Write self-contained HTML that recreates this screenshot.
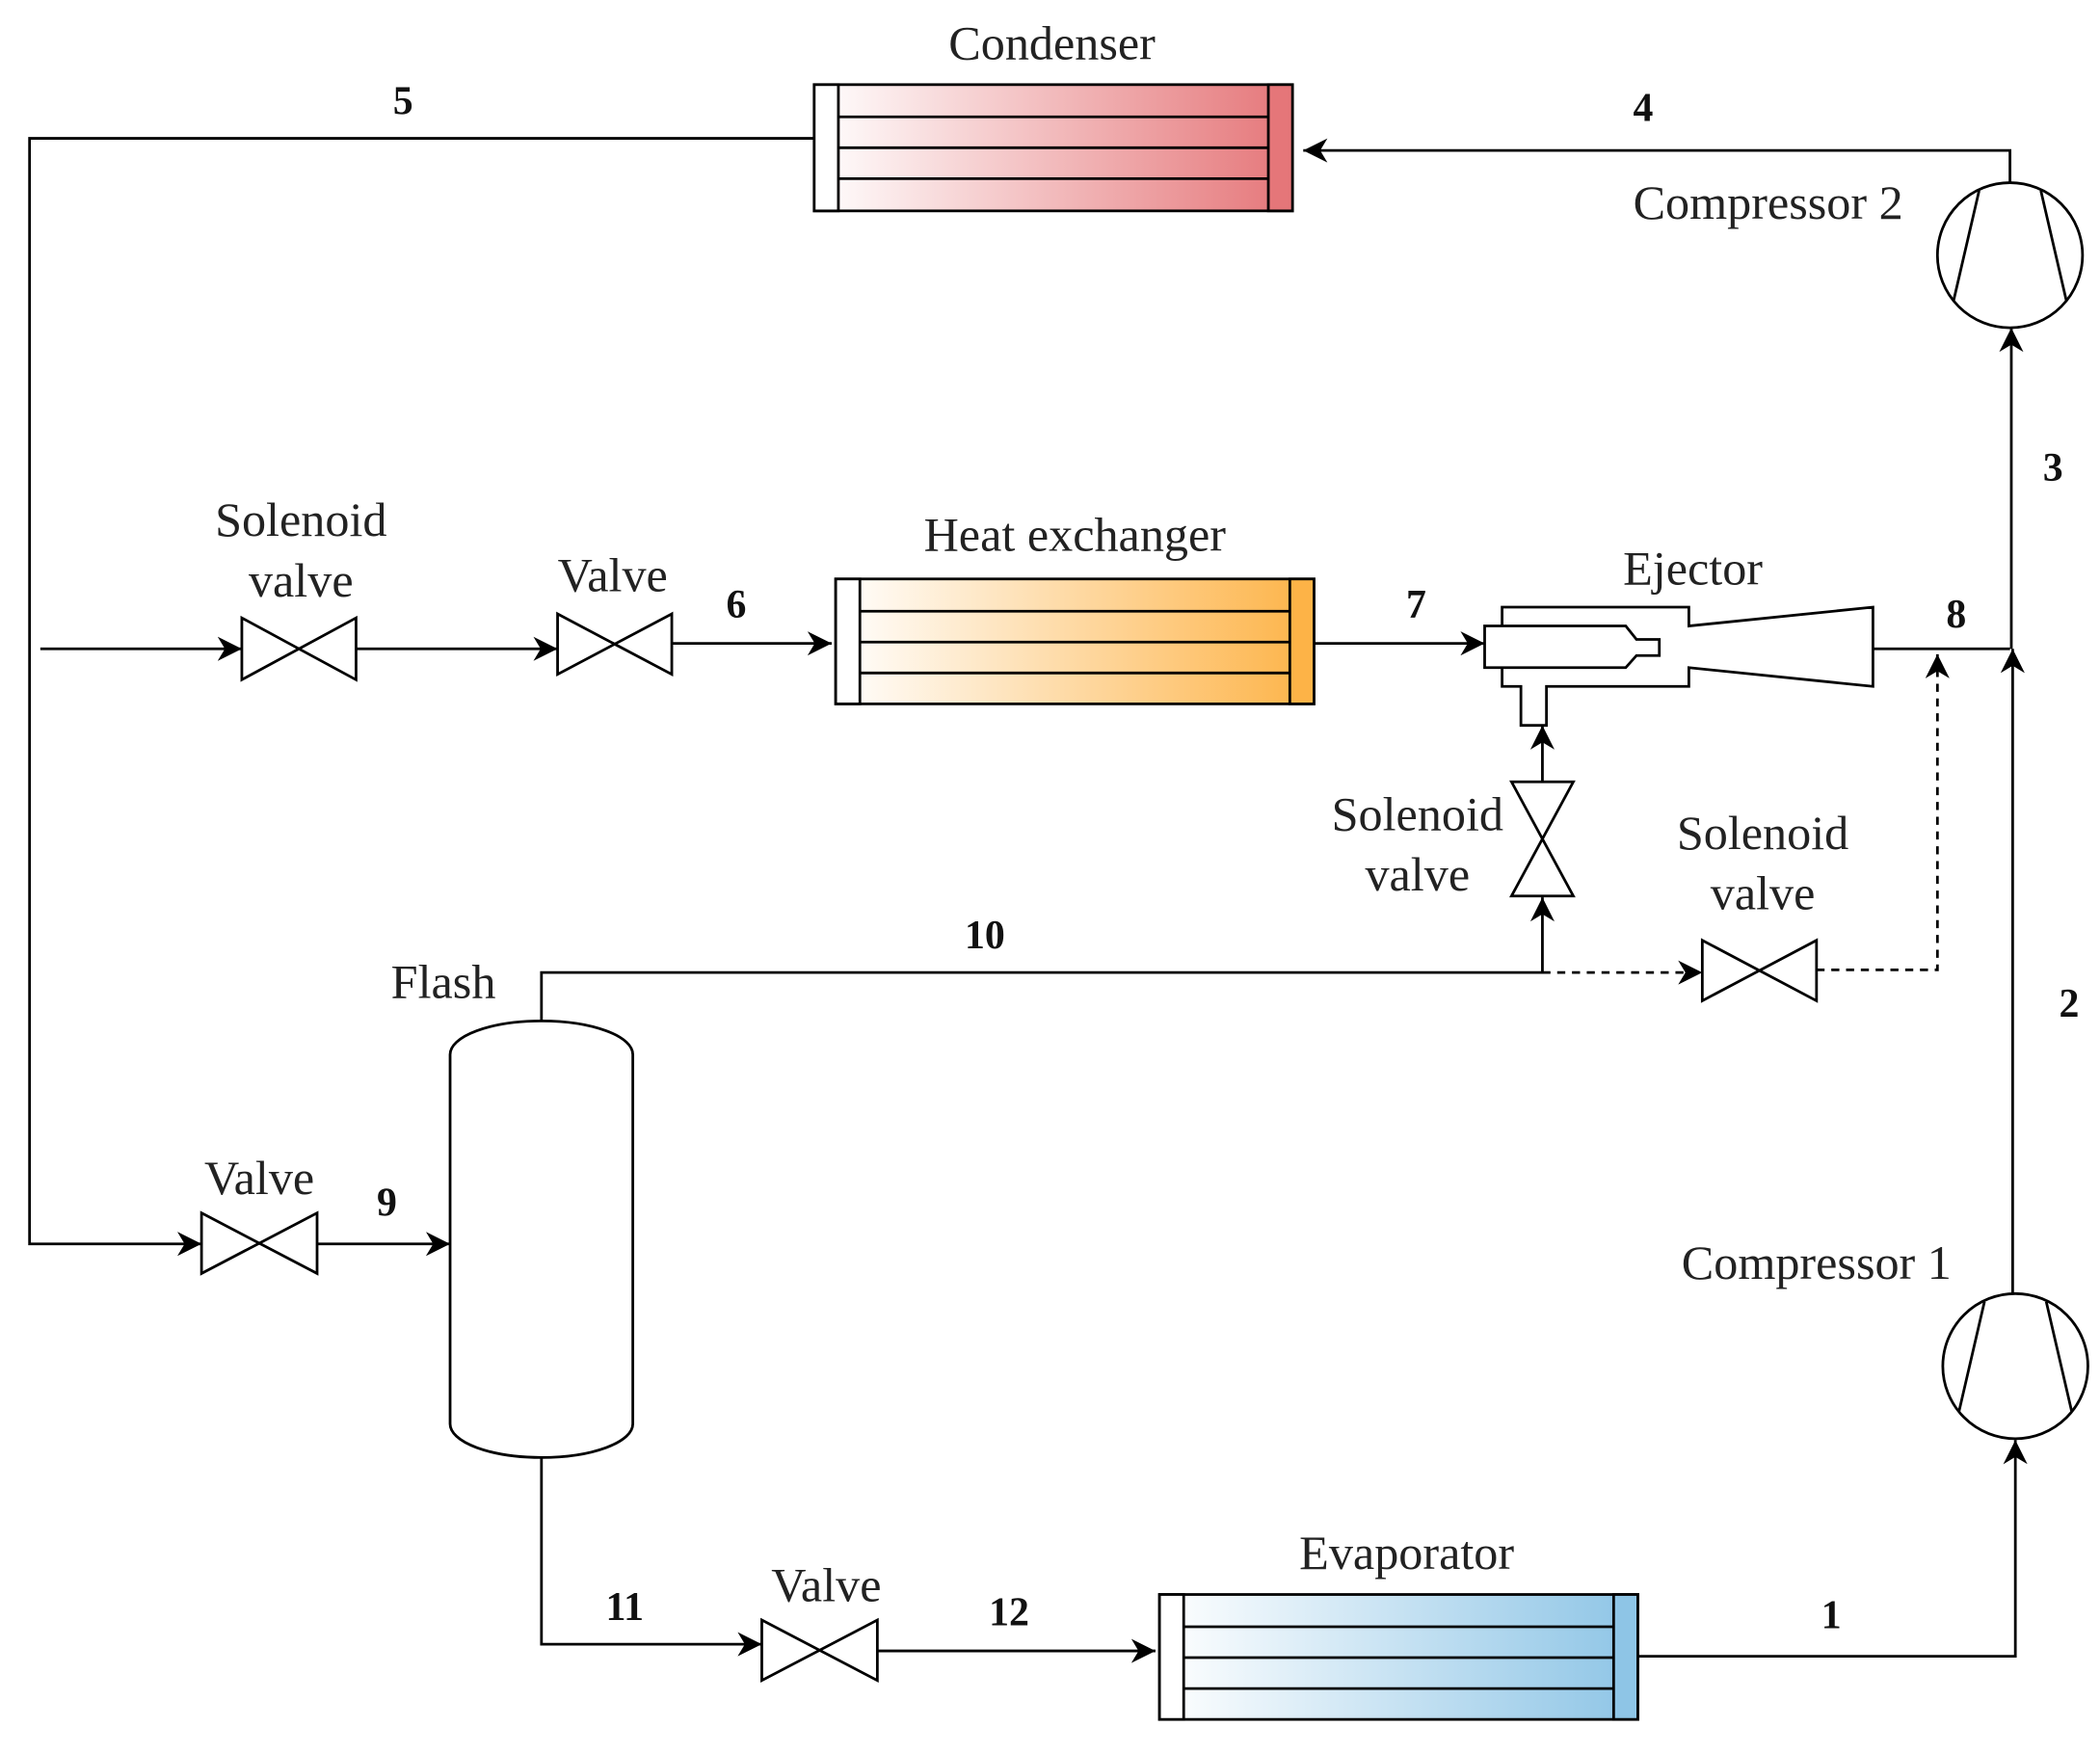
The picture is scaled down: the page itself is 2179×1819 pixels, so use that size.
<!DOCTYPE html>
<html><head><meta charset="utf-8"><style>html,body{margin:0;padding:0;background:#fff}svg{display:block}</style></head>
<body>
<svg width="2179" height="1819" viewBox="0 0 1563 1305" preserveAspectRatio="none" xmlns="http://www.w3.org/2000/svg">
<defs>
<linearGradient id="gr" x1="0" x2="1"><stop offset="0" stop-color="#fff"/><stop offset="1" stop-color="#e57679"/></linearGradient>
<linearGradient id="go" x1="0" x2="1"><stop offset="0" stop-color="#fff"/><stop offset="1" stop-color="#fdb347"/></linearGradient>
<linearGradient id="gb" x1="0" x2="1"><stop offset="0" stop-color="#fff"/><stop offset="1" stop-color="#8ec5e6"/></linearGradient>
<marker id="b" viewBox="0 0 10 10" refX="10" refY="5" markerWidth="18" markerHeight="18" markerUnits="userSpaceOnUse" orient="auto"><path d="M0,0 L10,5 L0,10 L3,5 z" fill="#000"/></marker>
</defs>
<g fill="none" stroke="#000" stroke-width="2">
<rect x="606" y="63" width="356" height="94" fill="url(#gr)"/>
<rect x="606" y="63" width="18" height="94" fill="#fff"/>
<rect x="944" y="63" width="18" height="94" fill="#e57679"/>
<path d="M624 87H944M624 110H944M624 133H944"/>
<rect x="622" y="431" width="356" height="93" fill="url(#go)"/>
<rect x="622" y="431" width="18" height="93" fill="#fff"/>
<rect x="960" y="431" width="18" height="93" fill="#fdb347"/>
<path d="M640 455H960M640 478H960M640 501H960"/>
<rect x="863" y="1187" width="356" height="93" fill="url(#gb)"/>
<rect x="863" y="1187" width="18" height="93" fill="#fff"/>
<rect x="1201" y="1187" width="18" height="93" fill="#8ec5e6"/>
<path d="M881 1211H1201M881 1234H1201M881 1257H1201"/>
<circle cx="1496" cy="190" r="54" fill="#fff"/>
<path d="M1473 142L1454 224M1519 142L1538 224"/>
<circle cx="1500" cy="1017" r="54" fill="#fff"/>
<path d="M1477 969L1458 1051M1523 969L1542 1051"/>
<path d="M335 785 A68 25 0 0 1 471 785 V1060 A68 25 0 0 1 335 1060 Z" fill="#fff"/>
<path d="M180 460L265 506V460L180 506Z"/>
<path d="M415 457L500 502V457L415 502Z"/>
<path d="M150 903L236 948V903L150 948Z"/>
<path d="M567 1206L653 1251V1206L567 1251Z"/>
<path d="M1267 700L1352 745V700L1267 745Z"/>
<path d="M1125 582L1171 667H1125L1171 582Z"/>
<path d="M1118 466V452H1257V466L1394 452V511L1257 497V511H1151V540H1132V511H1118V497" fill="#fff"/>
<path d="M1105 466H1210L1218 476H1235V488H1218L1210 497H1105Z" fill="#fff"/>
<path d="M606 103H22V926H150" marker-end="url(#b)"/>
<path d="M236 926H335" marker-end="url(#b)"/>
<path d="M403 760V724H1148V668" marker-end="url(#b)"/>
<path d="M1148 582V540" marker-end="url(#b)"/>
<path d="M1148 724H1267" stroke-dasharray="6,5" marker-end="url(#b)"/>
<path d="M1352 722H1442V487" stroke-dasharray="6,5" marker-end="url(#b)"/>
<path d="M30 483H180" marker-end="url(#b)"/>
<path d="M265 483H415" marker-end="url(#b)"/>
<path d="M500 479H619" marker-end="url(#b)"/>
<path d="M978 479H1105" marker-end="url(#b)"/>
<path d="M1394 483H1496"/>
<path d="M1498 963V483" marker-end="url(#b)"/>
<path d="M1497 483V244" marker-end="url(#b)"/>
<path d="M1496 136V112H970" marker-end="url(#b)"/>
<path d="M403 1085V1224H567" marker-end="url(#b)"/>
<path d="M653 1229H860" marker-end="url(#b)"/>
<path d="M1219 1233H1500V1072" marker-end="url(#b)"/>
</g>
<g font-family="'Liberation Serif',serif" font-size="36" fill="#222" text-anchor="middle">
<text x="783" y="44">Condenser</text>
<text x="1316" y="163">Compressor 2</text>
<text x="224" y="399">Solenoid</text><text x="224" y="444">valve</text>
<text x="456" y="440">Valve</text>
<text x="800" y="410">Heat exchanger</text>
<text x="1260" y="435">Ejector</text>
<text x="1055" y="618">Solenoid</text><text x="1055" y="663">valve</text>
<text x="1312" y="632">Solenoid</text><text x="1312" y="677">valve</text>
<text x="330" y="743">Flash</text>
<text x="193" y="889">Valve</text>
<text x="1352" y="952">Compressor 1</text>
<text x="615" y="1192">Valve</text>
<text x="1047" y="1168">Evaporator</text>
</g>
<g font-family="'Liberation Serif',serif" font-size="30" font-weight="bold" fill="#111" text-anchor="middle">
<text x="300" y="85">5</text><text x="1223" y="90">4</text><text x="1528" y="358">3</text>
<text x="548" y="460">6</text><text x="1054" y="460">7</text><text x="1456" y="467">8</text>
<text x="733" y="706">10</text><text x="1540" y="757">2</text><text x="288" y="905">9</text>
<text x="465" y="1206">11</text><text x="751" y="1210">12</text><text x="1363" y="1212">1</text>
</g>
</svg>
</body></html>
